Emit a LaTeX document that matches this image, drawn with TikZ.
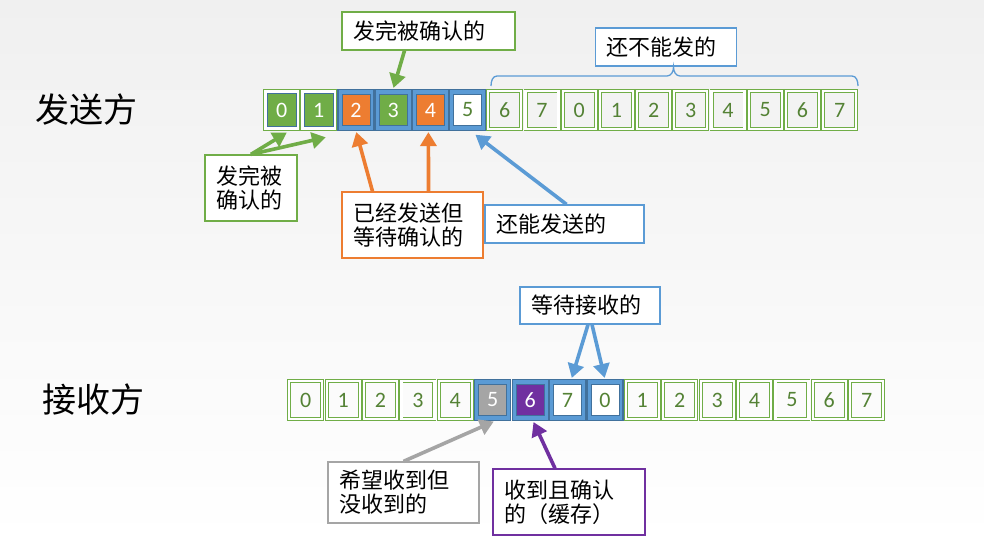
\documentclass[tikz,border=0pt]{standalone}
\usepackage{fontspec}
\setmainfont{Carlito}
\newfontfamily\cjkf{Noto Sans CJK SC}
\usetikzlibrary{arrows.meta,calc}
\definecolor{cgreen}{HTML}{70AD47}
\definecolor{cdgreen}{HTML}{548235}
\definecolor{cblue}{HTML}{5B9BD5}
\definecolor{cdblue}{HTML}{41719C}
\definecolor{corange}{HTML}{ED7D31}
\definecolor{cgray}{HTML}{A5A5A5}
\definecolor{cpurple}{HTML}{7030A0}
\definecolor{bgtop}{HTML}{F0F0F0}
\tikzset{
  digit/.style={font=\fontsize{22}{24}\selectfont},
  gcell/.style={digit, draw=cgreen, line width=0.9pt, double=white, double distance=2.2pt,
    minimum width=33pt, minimum height=37.5pt, inner sep=0pt, text=cdgreen},
  aframe/.style={draw=cgreen, line width=1.2pt, fill=white, minimum width=36pt, minimum height=41pt, inner sep=0pt},
  ainner/.style={digit, fill=cgreen, draw=cdblue, line width=0.8pt, minimum width=29pt, minimum height=33pt, inner sep=0pt, text=white},
  bframe/.style={fill=cblue, draw=cdblue, line width=1.2pt, minimum width=36pt, minimum height=41pt, inner sep=0pt},
  binner/.style={digit, draw=cdblue, line width=0.8pt, minimum width=28pt, minimum height=31pt, inner sep=0pt},
  lbox/.style={draw=#1, fill=white, line width=1.3pt, inner xsep=11pt, inner ysep=0pt, align=left,
    font=\cjkf\fontsize{22}{24}\selectfont},
  side/.style={font=\cjkf\fontsize{34}{36}\selectfont},
  arr/.style={draw=#1, line width=3.6pt, -{Triangle[length=14pt,width=16pt]}, shorten >=1pt},
}
\newcommand\acell[3]{\node[aframe] (#1) at (#2) {}; \node[ainner] (#1i) at (#2) {#3};}
\newcommand\bcell[5]{\node[bframe] (#1) at (#2) {}; \node[binner, fill=#3, text=#4] (#1i) at (#2) {#5};}
\begin{document}
\begin{tikzpicture}[x=1pt,y=-1pt]
\useasboundingbox (0,0) rectangle (984,540);
\shade[top color=bgtop, bottom color=white] (0,0) rectangle (984,540);

% side labels
\node[side] (snd) at (86,110) {发送方};
\node[side] (rcv) at (93,400) {接收方};

% sender row
\acell{s0}{{263+37.2*0.5},110}{0}
\acell{s1}{{263+37.2*1.5},110}{1}
\bcell{s2}{{263+37.2*2.5},110}{corange}{white}{2}
\bcell{s3}{{263+37.2*3.5},110}{cgreen}{white}{3}
\bcell{s4}{{263+37.2*4.5},110}{corange}{white}{4}
\bcell{s5}{{263+37.2*5.5},110}{white}{cdgreen}{5}
\foreach \i/\d in {6/6,7/7,8/0,9/1,10/2,11/3,12/4,13/5,14/6,15/7}
  \node[gcell] (s\i) at ({263+37.2*(\i+0.5)},110) {\d};

% receiver row
\foreach \i/\d in {0/0,1/1,2/2,3/3,4/4}
  \node[gcell] (r\i) at ({287+37.4*(\i+0.5)},400) {\d};
\bcell{r5}{{287+37.4*5.5},400}{cgray}{white}{5}
\bcell{r6}{{287+37.4*6.5},400}{cpurple}{white}{6}
\bcell{r7}{{287+37.4*7.5},400}{white}{cdgreen}{7}
\bcell{r8}{{287+37.4*8.5},400}{white}{cdgreen}{0}
\foreach \i/\d in {9/1,10/2,11/3,12/4,13/5,14/6,15/7}
  \node[gcell] (r\i) at ({287+37.4*(\i+0.5)},400) {\d};

% label boxes
\node[lbox=cgreen, text width=151pt, minimum height=38pt] (ba) at (428.5,31) {发完被确认的};
\node[lbox=cblue, text width=119pt, minimum height=38pt] (bb) at (666,47) {还不能发的};
\node[lbox=cgreen, text width=70pt, minimum height=66pt] (bc) at (251,188) {发完被\\确认的};
\node[lbox=corange, text width=119pt, minimum height=66pt] (bd) at (412.5,225) {已经发送但\\等待确认的};
\node[lbox=cblue, text width=137pt, minimum height=38pt] (be) at (564.5,224) {还能发送的};
\node[lbox=cblue, text width=118pt, minimum height=37pt] (bf) at (590,305.5) {等待接收的};
\node[lbox=cgray, text width=129pt, minimum height=61pt] (bg) at (403.5,492.5) {希望收到但\\没收到的};
\node[lbox=cpurple, text width=130pt, minimum height=66pt] (bh) at (569,502) {收到且确认\\的（缓存）};

% brace
\draw[cblue, line width=1.3pt] (491,86) to[out=90,in=180] (497,76) -- (667,76)
  to[out=0,in=270] (673.5,67) to[out=270,in=180] (680,76) -- (852,76) to[out=0,in=90] (858,86);

% arrows
\draw[arr=cgreen] ([xshift=-24pt]ba.south) -- (s3.north);
\draw[arr=cgreen] (bc.north) -- ([xshift=6pt,yshift=-1pt]s0.south);
\draw[arr=cgreen] (bc.north) -- ([xshift=8pt,yshift=-6pt]s1.south);
\draw[arr=corange] ([xshift=-40pt]bd.north) -- (s2.south);
\draw[arr=corange] ([xshift=16pt]bd.north) -- ([xshift=-2pt]s4.south);
\draw[arr=cblue] ([xshift=2pt]be.north) -- ([xshift=7pt,yshift=-3pt]s5.south);
\draw[arr=cblue] ([xshift=-2pt]bf.south) -- ([xshift=4pt]r7.north);
\draw[arr=cblue] ([xshift=2pt]bf.south) -- (r8.north);
\draw[arr=cgray] (bg.north) -- ([xshift=2pt]r5.south);
\draw[arr=cpurple] ([xshift=-14pt]bh.north) -- ([xshift=3pt]r6.south);
\end{tikzpicture}
\end{document}
